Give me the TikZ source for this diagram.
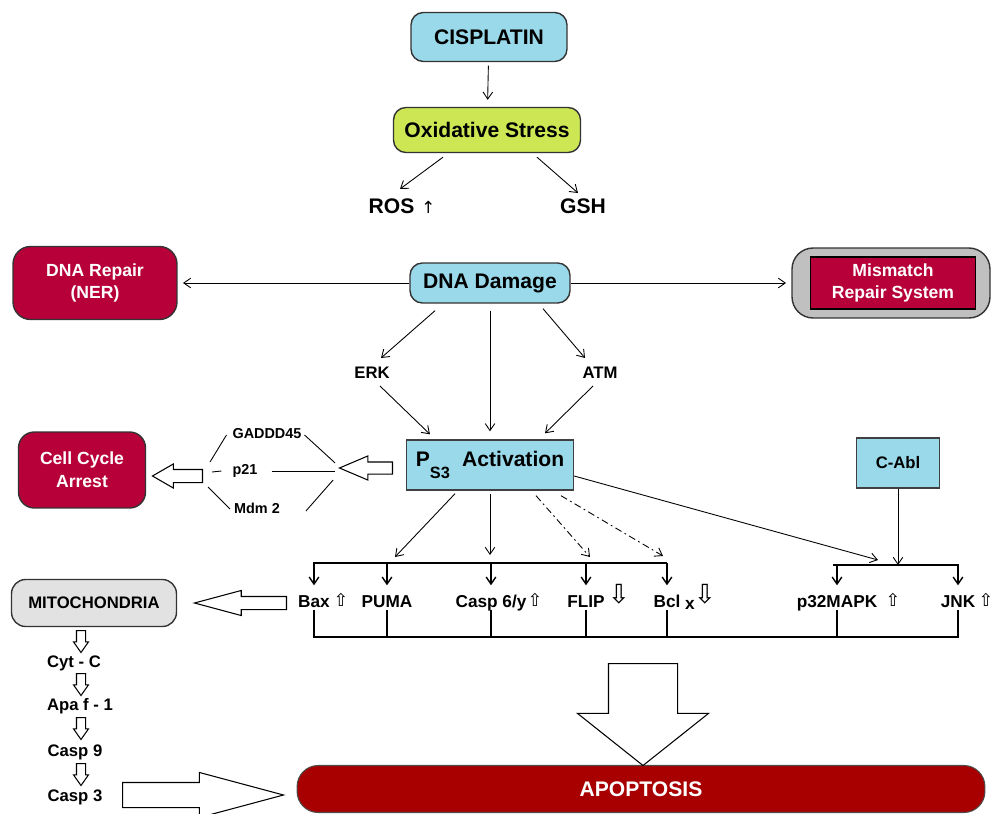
\documentclass[tikz,border=0pt]{standalone}
\usepackage{fontspec}
\setmainfont{Liberation Sans}
\newfontfamily\symfont{DejaVu Sans}
\usetikzlibrary{arrows.meta,positioning,calc,shapes.arrows}

\definecolor{boxblue}{RGB}{153,217,234}
\definecolor{oxgreen}{RGB}{204,230,84}
\definecolor{repairred}{RGB}{183,0,58}
\definecolor{apopred}{RGB}{168,0,0}
\definecolor{mmrgray}{RGB}{192,192,192}
\definecolor{mitogray}{RGB}{226,226,226}

\begin{document}
\begin{tikzpicture}[
    x=0.02cm, y=-0.02cm,
    >={Straight Barb[length=4pt,width=5.5pt]},
    bluebox/.style={
        draw=black!80,
        line width=0.8pt,
        fill=boxblue,
        rounded corners=7pt,
        font=\bfseries\fontsize{12}{14}\selectfont
    },
    greenbox/.style={
        bluebox,
        fill=oxgreen
    },
    actbox/.style={
        draw=black!75,
        line width=0.8pt,
        fill=boxblue,
        font=\bfseries\fontsize{12}{14}\selectfont
    },
    ablbox/.style={
        actbox,
        font=\bfseries\fontsize{9.5}{11}\selectfont
    },
    redbox/.style={
        draw=black!80,
        line width=0.8pt,
        fill=repairred,
        text=white,
        align=center,
        font=\bfseries\fontsize{10}{13}\selectfont
    },
    graybox/.style={
        draw=black!80,
        line width=0.8pt,
        fill=mmrgray,
        rounded corners=12pt
    },
    mmrbox/.style={
        redbox,
        draw=black
    },
    mitobox/.style={
        draw=black!80,
        line width=0.8pt,
        fill=mitogray,
        rounded corners=8pt,
        font=\bfseries\fontsize{9.5}{11}\selectfont
    },
    apopbox/.style={
        draw=black!70,
        line width=0.6pt,
        fill=apopred,
        text=white,
        rounded corners=12pt,
        font=\bfseries\fontsize{12}{14}\selectfont
    },
    big/.style={
        font=\bfseries\fontsize{12}{14}\selectfont
    },
    kinase/.style={
        font=\bfseries\fontsize{9.5}{11}\selectfont
    },
    tiny/.style={
        inner sep=1pt,
        font=\bfseries\fontsize{8.2}{10}\selectfont
    },
    gene/.style={
        inner sep=1pt,
        text height=7.5pt,
        text depth=0pt,
        font=\bfseries\fontsize{9.8}{12}\selectfont
    },
    chain/.style={
        font=\bfseries\fontsize{9.5}{11}\selectfont
    },
    upmark/.style={
        inner sep=0pt,
        font=\symfont\fontsize{10}{10}\selectfont
    },
    downmark/.style={
        inner sep=0pt,
        font=\symfont\fontsize{15}{15}\selectfont
    },
    fleche/.style={
        ->,
        line width=0.5pt
    },
    link/.style={
        line width=0.5pt
    },
    drop/.style={
        ->,
        line width=0.8pt,
        shorten >=4pt
    },
    bracket/.style={
        line width=0.9pt
    },
    bus/.style={
        line width=1.4pt
    },
    blockarrow/.style={
        single arrow,
        draw=black,
        line width=0.6pt,
        fill=white,
        anchor=tail,
        single arrow head indent=0pt
    }
]
\useasboundingbox (0,0) rectangle (997,814);

% Drug and oxidative stress
\node[bluebox, minimum width=3.12cm, minimum height=0.98cm] (cis) at (489,37) {CISPLATIN};
\node[greenbox, minimum width=3.74cm, minimum height=0.9cm] (ox) at (487,130) {Oxidative Stress};
\node[big] (ros) at (402,206) {ROS\hspace{4pt}{\symfont\mdseries\fontsize{9.5}{9.5}\selectfont ↑}};
\node[big] (gsh) at (583,206) {GSH};

\draw[fleche, shorten <=2pt, shorten >=4pt] (cis) -- (ox);
\draw[fleche] ($(ox.south)+(-44,4)$) -- ($(ros)+(-2,-17)$);
\draw[fleche] ($(ox.south)+(50,4)$) -- ($(gsh)+(-5,-13)$);

% DNA damage and repair
\node[bluebox, minimum width=3.2cm, minimum height=0.8cm] (dna) at (490,283) {DNA Damage};
\node[redbox, rounded corners=10pt, minimum width=3.28cm, minimum height=1.46cm] (ner) at (95,283) {DNA Repair\\(NER)};
\node[graybox, minimum width=3.96cm, minimum height=1.4cm] (mmr) at (891,283) {};
\node[mmrbox, minimum width=3.3cm, minimum height=1.04cm] (mmrin) at (893,283) {Mismatch\\Repair System};

\draw[fleche, shorten >=3pt] (dna) -- (ner);
\draw[fleche, shorten >=3pt] (dna) -- (mmr);

% Kinases and p53
\node[kinase] (erk) at (372,373) {ERK};
\node[kinase] (atm) at (600,373) {ATM};
\node[actbox, minimum width=3.34cm, minimum height=1cm] (p53) at (490,465)
    {P\raisebox{-7pt}{\fontsize{9.3}{10}\selectfont S3}\hspace{7pt}Activation};

\draw[fleche] ($(dna.south)+(-55,7)$) -- ($(erk)+(9,-15)$);
\draw[fleche] ($(dna.south)+(0,7)$) -- ($(p53.north)+(0,-8)$);
\draw[fleche] ($(dna.south)+(53,5)$) -- ($(atm)+(-15,-15)$);
\draw[fleche] ($(erk)+(8,13)$) -- ($(p53.north)+(-60,-5)$);
\draw[fleche] ($(atm)+(-7,13)$) -- ($(p53.north)+(55,-6)$);

% Cell cycle arrest
\node[redbox, rounded corners=9pt, minimum width=2.54cm, minimum height=1.52cm] (arrest) at (82,470) {Cell Cycle\\Arrest};
\node[tiny] (gadd) at (267,434) {GADDD45};
\node[tiny] (p21) at (245,471) {p21};
\node[tiny] (mdm) at (257,508) {Mdm 2};
\node[blockarrow, inner sep=0.11cm, minimum height=1.06cm, minimum width=0.46cm, single arrow head extend=0.12cm,
    single arrow tip angle=46, shape border rotate=180] (fromp53) at (393,468) {};
\node[blockarrow, inner sep=0.12cm, minimum height=1cm, minimum width=0.46cm, single arrow head extend=0.11cm,
    single arrow tip angle=60, shape border rotate=180] (toarrest) at (203,476) {};

\draw[link] ($(toarrest.tail)+(7,-14)$) -- ($(gadd.west)+(-4,1)$);
\draw[link] ($(toarrest.tail)+(9,-4)$) -- ($(p21.west)+(-9,0)$);
\draw[link] ($(toarrest.tail)+(5,11)$) -- ($(mdm.west)+(-2,1)$);
\draw[link] ($(gadd.east)+(1,1)$) -- ($(fromp53.tip)+(-3,-5)$);
\draw[link] ($(p21.east)+(12,0)$) -- ($(fromp53.tip)+(-3,3)$);
\draw[link] ($(mdm.east)+(24,3)$) -- ($(fromp53.tip)+(-5,12)$);

% C-Abl
\node[ablbox, minimum width=1.66cm, minimum height=1cm] (cabl) at (898,463) {C-Abl};

% Brackets over the targets
\coordinate (brl) at (313,563);
\coordinate (brr) at (667,563);
\coordinate (brl2) at (833,565);
\coordinate (brr2) at (959,565);
\draw[bracket] (brl) -- (brr);
\draw[bracket] (brl2) -- (brr2);

% Arrows out of p53
\coordinate (pumain) at (395,557);
\coordinate (caspin) at (490,555);
\coordinate (flipin) at (590,557);
\coordinate (bclin) at (663,556);
\coordinate (mapkin) at (878,560);
\draw[fleche] ($(p53.south)+(-35,3)$) -- (pumain);
\draw[fleche] ($(p53.south)+(0,3)$) -- (caspin);
\draw[fleche, dash pattern=on 4pt off 2pt on 1pt off 2pt] ($(p53.south)+(46,5)$) -- (flipin);
\draw[fleche, dash pattern=on 4pt off 2pt on 1pt off 2pt] ($(p53.south)+(71,5)$) -- (bclin);
\draw[fleche] ($(p53.east)+(0,11)$) -- (mapkin);
\draw[fleche] (cabl.south) -- (cabl.south |- brl2);

% Targets
\node[gene] (bax) at (314,601) {Bax};
\node[gene] (puma) at (387,601) {PUMA};
\node[gene] (casp) at (491,601) {Casp 6/y};
\node[gene] (flip) at (586,601) {FLIP};
\node[gene] (bcl) at (667,601) {Bcl};
\node[gene] (bclx) at (690,603) {x};
\node[gene] (mapk) at (837,601) {p32MAPK};
\node[gene] (jnk) at (958,601) {JNK};

\node[upmark] (baxup) at (341,600) {⇧};
\node[upmark] (caspup) at (535,600) {⇧};
\node[downmark] (flipdn) at (619,594) {⇩};
\node[downmark] (bcldn) at (705,594) {⇩};
\node[upmark] (mapkup) at (893,600) {⇧};
\node[upmark] (jnkup) at (986,600) {⇧};

\foreach \g in {bax,puma,casp,flip,bcl}
    \draw[drop] (brl -| \g) -- (\g.north);
\foreach \g in {mapk,jnk}
    \draw[drop] (brl2 -| \g) -- (\g.north);

% Common bus
\coordinate (busl) at (313,637);
\coordinate (busr) at (959,637);
\draw[bus] (busl) -- (busr);
\foreach \g in {bax,puma,casp,flip,bcl,mapk,jnk}
    \draw[bus] (\g.south) -- (\g.south |- busl);

% Mitochondrial pathway
\node[mitobox, minimum width=3.3cm, minimum height=0.94cm] (mito) at (94,603) {MITOCHONDRIA};
\node[blockarrow, inner sep=0.12cm, minimum height=1.84cm, minimum width=0.48cm, single arrow head extend=0.12cm,
    single arrow tip angle=30, shape border rotate=180] (tomito) at (287,603) {};

\node[chain] (cytc) at (74,663) {Cyt - C};
\node[chain] (apaf) at (80,706) {Apa f - 1};
\node[chain] (casp9) at (75,752) {Casp 9};
\node[chain] (casp3) at (75,797) {Casp 3};

\foreach \y/\n in {630/1,673/2,717/3,763/4}
    \node[blockarrow, inner sep=0.08cm, minimum height=0.44cm, minimum width=0.28cm, single arrow head extend=0.06cm,
        single arrow tip angle=70, shape border rotate=270] (down\n) at (81,\y) {};

% Apoptosis
\node[apopbox, minimum width=13.76cm, minimum height=0.94cm] (apop) at (641,789) {APOPTOSIS};
\node[blockarrow, inner sep=0.68cm, minimum height=2.04cm, minimum width=2.6cm, single arrow head extend=0.62cm,
    single arrow tip angle=103, shape border rotate=270] (bigdown) at (643,663) {};
\node[blockarrow, inner sep=0.24cm, minimum height=3.22cm, minimum width=0.88cm, single arrow head extend=0.2cm,
    single arrow tip angle=30] (toapop) at (122,795) {};

\end{tikzpicture}
\end{document}
